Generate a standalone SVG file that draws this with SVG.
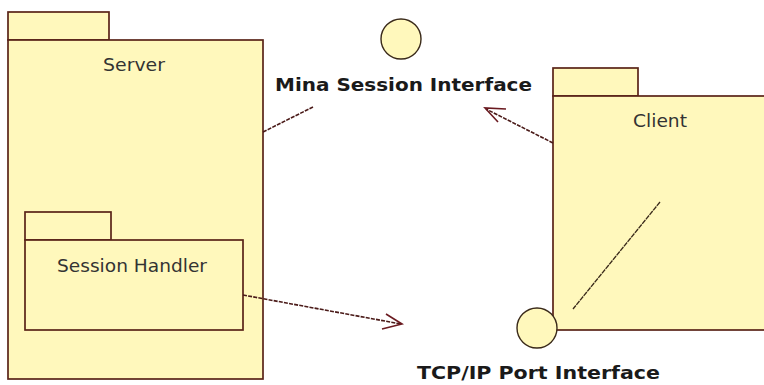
<svg xmlns="http://www.w3.org/2000/svg" width="764" height="385" viewBox="0 0 764 385">
<style>
.pkg{fill:#fff8bc;stroke:#5a2418;stroke-width:1.7}
.ifc{fill:#fff8bc;stroke:#3a2a1a;stroke-width:1.4}
.lbl{font-family:"DejaVu Sans","Liberation Sans",sans-serif;font-size:18px;fill:#333}
.ilbl{font-family:"DejaVu Sans","Liberation Sans",sans-serif;font-size:17px;font-weight:bold;fill:#1a1a1a}
.dep{fill:none;stroke:#4a1a18;stroke-width:1.6;stroke-dasharray:4 1.2}
.head{fill:none;stroke:#6a1a20;stroke-width:1.6}
</style>
<rect width="764" height="385" fill="#fff"/>
<g id="server">
<rect class="pkg" x="8" y="12" width="101" height="28"/>
<rect class="pkg" x="8" y="40" width="255" height="339"/>
<text class="lbl" x="134" y="71" text-anchor="middle" textLength="62" lengthAdjust="spacingAndGlyphs">Server</text>
</g>
<g id="session-handler">
<rect class="pkg" x="25" y="212" width="86" height="28"/>
<rect class="pkg" x="25" y="240" width="218" height="90"/>
<text class="lbl" x="132" y="272" text-anchor="middle" textLength="150" lengthAdjust="spacingAndGlyphs">Session Handler</text>
</g>
<g id="client">
<rect class="pkg" x="553" y="68" width="85" height="28"/>
<rect class="pkg" x="553" y="96" width="214" height="234"/>
<text class="lbl" x="660" y="127" text-anchor="middle" textLength="54" lengthAdjust="spacingAndGlyphs">Client</text>
</g>
<g id="mina-session-interface">
<circle class="ifc" cx="401" cy="39" r="20"/>
<text class="ilbl" x="275" y="91" textLength="257" lengthAdjust="spacingAndGlyphs">Mina Session Interface</text>
</g>
<g id="tcp-ip-port-interface">
<circle class="ifc" cx="537" cy="328" r="20"/>
<text class="ilbl" x="417" y="379" textLength="243" lengthAdjust="spacingAndGlyphs">TCP/IP Port Interface</text>
</g>
<g id="connectors">
<line class="dep" x1="263" y1="132" x2="313" y2="107"/>
<line class="dep" x1="553" y1="143" x2="486" y2="109"/>
<polyline class="head" points="506,109 485,108 498,122"/>
<line class="dep" x1="243" y1="295" x2="401" y2="324"/>
<polyline class="head" points="386,314 402,324 382,329"/>
<line x1="660" y1="202" x2="573" y2="309" stroke="#3a2a1a" stroke-width="1.3" stroke-dasharray="5 0.8"/>
</g>
</svg>
